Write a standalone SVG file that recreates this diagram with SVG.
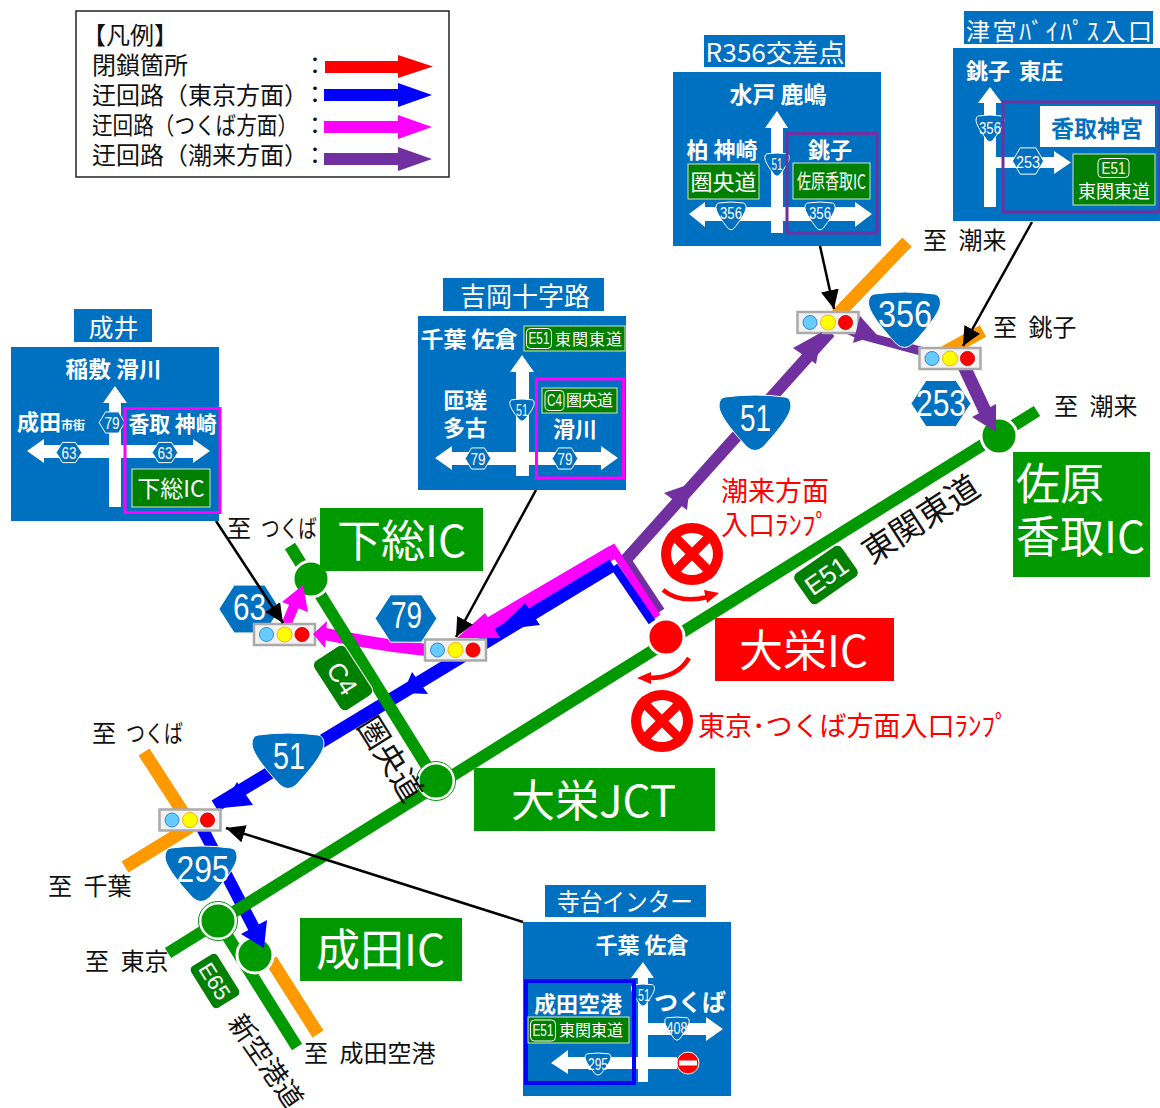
<svg xmlns="http://www.w3.org/2000/svg" width="1160" height="1108" viewBox="0 0 1160 1108">
<style>
text{font-family:"Noto Sans CJK JP","Noto Sans",sans-serif}
.k{fill:#111;font-size:24px}
.to{fill:#111;font-size:24px;word-spacing:6px}
.rd{fill:#f00;font-size:27px}
.sb{fill:#0070c0}
.t{fill:#fff;font-size:25px;text-anchor:middle}
.b{fill:#fff;font-size:22px;font-weight:700;text-anchor:middle}
.g{fill:#008000;stroke:#cfe5cf;stroke-width:1}
.gt{fill:#fff;font-size:16px}
.rr{fill:none;stroke:#fff;stroke-width:1}
.w{fill:#fff}
.n{font-family:"Liberation Sans",Arial,sans-serif;fill:#fff;font-size:16px;text-anchor:middle}
.N{font-family:"Liberation Sans",Arial,sans-serif;fill:#fff;font-size:36px;text-anchor:middle}
.lab{fill:#fff;font-size:44px}
.road{fill:none;stroke:#009900;stroke-width:12}
.or{fill:none;stroke:#ff9900;stroke-width:13}
.sig{fill:#f2f2f2;stroke:#aaa;stroke-width:2.5}
.l1{fill:#66ccff;stroke:#3a86c8;stroke-width:1}
.l2{fill:#ffff00;stroke:#f5b400;stroke-width:1}
.l3{fill:#ff0000;stroke:#e00000;stroke-width:1}
.ic{fill:#009900;stroke:#fff;stroke-width:3}
.ring{fill:none;stroke:#009900;stroke-width:1}
.pt{fill:none;stroke:#000;stroke-width:2.500;marker-end:url(#ah)}
.badge{fill:#008000;stroke:#fff;stroke-width:1}
.bt{fill:#fff;font-size:26px;text-anchor:middle;font-family:"Liberation Sans",Arial,sans-serif}
.rn{fill:#111;font-size:31px;text-anchor:middle}
.rt{fill:none}
</style>
<defs>
<marker id="ah" markerUnits="userSpaceOnUse" markerWidth="20" markerHeight="18" refX="19" refY="9" orient="auto"><path d="M0,0L19,9L0,18Z" fill="#000"/></marker>
<path id="sh" d="M-30,2Q0,-2 30,2Q36,3 36,11Q36,22 8,52Q0,59 -8,52Q-36,22 -36,11Q-36,3 -30,2Z" fill="#0070c0" stroke="#fff" stroke-width="1" vector-effect="non-scaling-stroke"/>
<path id="hx" d="M-30,0L-15,-23H15L30,0L15,23H-15Z" fill="#0070c0" stroke="#fff" stroke-width="1" vector-effect="non-scaling-stroke"/>
<g id="xs"><circle r="31" fill="#f00"/><circle r="21" fill="#fff"/><path d="M-22,-22L22,22M22,-22L-22,22" stroke="#f00" stroke-width="9"/></g>
<g id="lamp"><rect class="sig" x="-30.500" y="-10.500" width="61" height="21"/><circle class="l1" cx="-18" r="7"/><circle class="l2" r="7.500"/><circle class="l3" cx="17.500" r="7"/></g>
</defs>

<g id="legend">
<rect x="76" y="11" width="373" height="166" fill="#fff" stroke="#222" stroke-width="1.500"/>
<text class="k" x="82" y="44">【凡例】</text>
<text class="k" x="92" y="74">閉鎖箇所</text>
<text class="k" x="92" y="104">迂回路（東京方面）</text>
<text class="k" x="92" y="134" textLength="206" lengthAdjust="spacingAndGlyphs">迂回路（つくば方面）</text>
<text class="k" x="92" y="164">迂回路（潮来方面）</text>
<text class="k" x="303" y="74">：</text><text class="k" x="303" y="103">：</text><text class="k" x="303" y="134">：</text><text class="k" x="303" y="164">：</text>
<path d="M325,61H398V55L433,66.500L398,78V73H325Z" fill="#f00"/>
<path d="M324,89H398V83L432,95L398,107V101H324Z" fill="#00f"/>
<path d="M324,121H398V115L432,127L398,139V133H324Z" fill="#f0f"/>
<path d="M324,153H398V147L432,159L398,171V165H324Z" fill="#7030a0"/>
</g>

<g id="routes">
<path class="rt" d="M661,611L626,558" stroke="#7030a0" stroke-width="8"/>
<path class="rt" d="M622,564L830,332" stroke="#7030a0" stroke-width="12"/>
<path class="rt" d="M657,617L613,549L470,633" stroke="#f0f" stroke-width="8"/>
<path class="rt" d="M613,552L478,631" stroke="#f0f" stroke-width="14"/>
<path class="rt" d="M652,622L614,566" stroke="#00f" stroke-width="8"/>
<path class="rt" d="M613,565L215,806" stroke="#00f" stroke-width="13"/>
<path class="rt" d="M200,824L256,932" stroke="#00f" stroke-width="12"/>
<path class="rt" d="M428,650Q385,646 325,634" stroke="#f0f" stroke-width="12"/>
<path class="rt" d="M284,630L294,606" stroke="#f0f" stroke-width="10"/>
<path class="rt" d="M840,326L858,334L950,359" stroke="#7030a0" stroke-width="9"/>
<path class="rt" d="M962,362L985,411" stroke="#7030a0" stroke-width="13"/>
</g>

<g id="roads">
<path class="road" d="M1037,411L168,953"/>
<path class="road" d="M290,546L436,781"/>
<path class="road" d="M218,921L297,1047"/>
<path class="or" d="M144,752L186,817"/>
<path class="or" d="M125,867L190,827"/>
<path class="or" d="M271,960L318,1034"/>
<path class="or" d="M907,242L836,316"/>
<path class="or" d="M983,331L945,352"/>
</g>

<g id="ic-daiei"><circle cx="666" cy="637" r="18" fill="#f00" stroke="#fff" stroke-width="3"/><rect x="715" y="618" width="179" height="63" fill="#f00"/><text class="lab" x="739" y="667">大栄IC</text></g>
<g id="jct-daiei"><circle class="ic" cx="436" cy="781" r="18" stroke-width="2"/><circle class="ring" cx="436" cy="781" r="19.500"/><rect x="474" y="768" width="241" height="63" fill="#009900"/><text class="lab" x="511" y="817">大栄JCT</text></g>
<g id="jct-narita"><circle class="ic" cx="218" cy="921" r="18" stroke-width="2"/><circle class="ring" cx="218" cy="921" r="19.500"/></g>
<g id="ic-narita"><circle class="ic" cx="255" cy="955" r="18"/><rect x="300" y="918" width="162" height="63" fill="#009900"/><text class="lab" x="316" y="966">成田IC</text></g>
<g id="ic-shimofusa"><circle class="ic" cx="311" cy="579" r="18"/><rect x="320" y="508" width="163" height="63" fill="#009900"/><text class="lab" x="337" y="557">下総IC</text></g>
<g id="ic-sawara"><circle class="ic" cx="999" cy="436" r="18"/><rect x="1013" y="452" width="137" height="125" fill="#009900"/><text class="lab" x="1016" y="500" textLength="88">佐原</text><text class="lab" x="1016" y="553">香取IC</text></g>

<g id="route-shields">
<use href="#hx" transform="translate(249.500,609) scale(1.02,1.04)"/><text class="N" x="249.500" y="620" textLength="33" lengthAdjust="spacingAndGlyphs">63</text>
<use href="#hx" transform="translate(406,618.500) scale(1.03,1.03)"/><text class="N" x="406.500" y="628" textLength="31" lengthAdjust="spacingAndGlyphs">79</text>
<use href="#hx" transform="translate(941,403.500)"/><text class="N" x="941" y="416" textLength="50" lengthAdjust="spacingAndGlyphs">253</text>
<use href="#sh" transform="translate(755,395)"/><text class="N" x="755.500" y="431" textLength="31" lengthAdjust="spacingAndGlyphs">51</text>
<use href="#sh" transform="translate(288,733)"/><text class="N" x="289" y="769" textLength="32" lengthAdjust="spacingAndGlyphs">51</text>
<use href="#sh" transform="translate(201,846)"/><text class="N" x="203" y="882" textLength="53" lengthAdjust="spacingAndGlyphs">295</text>
<use href="#sh" transform="translate(904.500,292)"/><text class="N" x="905" y="327" textLength="54" lengthAdjust="spacingAndGlyphs">356</text>
</g>

<g id="signal-r356"><use href="#lamp" transform="translate(828,322.500)"/></g>
<g id="signal-choshi"><use href="#lamp" transform="translate(950,358.500)"/></g>
<g id="signal-narui"><use href="#lamp" transform="translate(284.500,634.500)"/></g>
<g id="signal-yoshioka"><use href="#lamp" transform="translate(455.500,650)"/></g>
<g id="signal-teradai"><use href="#lamp" transform="translate(190,820)"/></g>

<g id="connectors">
<polygon points="497,630 525,603 540,625" fill="#00f"/>
<polygon points="403,693 412,672 428,694" fill="#00f"/>
<polygon points="222,808 237,782 253,805" fill="#00f"/>
<polygon points="264,948 267,920 241,934" fill="#00f"/>
<polygon points="457,638 485,613 500,638" fill="#f0f"/>
<polygon points="313,634 327,621 325,648" fill="#f0f"/>
<polygon points="303,585 282,602 308,612" fill="#f0f"/>
<polygon points="690,484 664,493 687,510" fill="#7030a0"/>
<polygon points="822,332 793,348 816,364" fill="#7030a0"/>
<polygon points="860,316 853,343 877,335" fill="#7030a0"/>
<polygon points="996,432 996,404 972,417" fill="#7030a0"/>
<path d="M663,590Q680,604 708,597" fill="none" stroke="#f00" stroke-width="4.500"/>
<polygon points="719,593 704,590 707,603" fill="#f00"/>
<path d="M689,658Q677,678 650,678" fill="none" stroke="#f00" stroke-width="4.500"/>
<polygon points="637,678 651,672 651,684" fill="#f00"/>
<path class="pt" d="M820,246L834,309"/>
<path class="pt" d="M1032,222L963,346"/>
<path class="pt" d="M536,490L456,637"/>
<path class="pt" d="M216,521L283,623"/>
<path class="pt" d="M523,922L226,828"/>
</g>

<g id="road-badges">
<g transform="translate(343,678) rotate(57)"><rect class="badge" x="-29.500" y="-19" width="59" height="38" rx="6"/><text class="bt" y="10">C4</text></g>
<g transform="translate(826,575) rotate(-35)"><rect class="badge" x="-29" y="-19" width="58" height="38" rx="6"/><text class="bt" y="10">E51</text></g>
<g transform="translate(215,981) rotate(58)"><rect class="badge" x="-25" y="-16" width="50" height="32" rx="5"/><text class="bt" y="8" style="font-size:22px">E65</text></g>
</g>

<g id="road-names">
<text class="rn" transform="translate(927,529) rotate(-33)" style="font-size:33px">東関東道</text>
<text class="rn" transform="translate(381,765) rotate(58)">圏央道</text>
<text class="rn" transform="translate(258,1067) rotate(55)" style="font-size:27px">新空港道</text>
</g>

<g id="direction-labels">
<text class="to" x="923" y="249">至 潮来</text>
<text class="to" x="993" y="336">至 銚子</text>
<text class="to" x="1054" y="415">至 潮来</text>
<text class="to" x="227" y="537">至 <tspan x="261" textLength="56" lengthAdjust="spacingAndGlyphs">つくば</tspan></text>
<text class="to" x="92" y="742">至 <tspan x="126" textLength="57" lengthAdjust="spacingAndGlyphs">つくば</tspan></text>
<text class="to" x="48" y="895">至 千葉</text>
<text class="to" x="85" y="970">至 東京</text>
<text class="to" x="304" y="1062">至 成田空港</text>
</g>

<g id="ramp-closed-itako">
<use href="#xs" transform="translate(692,554)"/>
<text class="rd" x="721" y="501">潮来方面</text>
<text class="rd" x="721" y="535">入口ﾗﾝﾌﾟ</text>
</g>
<g id="ramp-closed-tokyo">
<use href="#xs" transform="translate(662,721)"/>
<text class="rd" x="698" y="736">東京･つくば方面入口ﾗﾝﾌﾟ</text>
</g>

<g id="sign-r356">
<rect class="sb" x="704" y="35" width="141" height="32"/><text class="t" x="775" y="62" textLength="139" lengthAdjust="spacingAndGlyphs">R356交差点</text>
<rect class="sb" x="673" y="72" width="208" height="174"/>
<text class="b" x="778" y="103" style="font-size:23px">水戸 鹿嶋</text>
<path class="w" d="M771,233V128H765L777,111L788,128H783V233Z"/>
<path class="w" d="M689,214L705,202V207H855V202L872,214L855,227V221H705V227Z"/>
<text class="b" x="722" y="158">柏 神崎</text>
<rect class="g" x="688" y="164" width="71" height="35"/><text class="gt" x="723.500" y="190" text-anchor="middle" style="font-size:22px">圏央道</text>
<use href="#sh" transform="translate(777,153) scale(.34,.42)"/><text class="n" x="777" y="170" textLength="11" lengthAdjust="spacingAndGlyphs">51</text>
<use href="#sh" transform="translate(731,202) scale(.42,.5)"/><text class="n" x="731" y="219" textLength="22" lengthAdjust="spacingAndGlyphs">356</text>
<use href="#sh" transform="translate(820,202) scale(.42,.5)"/><text class="n" x="820" y="219" textLength="22" lengthAdjust="spacingAndGlyphs">356</text>
<rect x="787" y="133.500" width="90" height="99.500" fill="none" stroke="#7030a0" stroke-width="3"/>
<text class="b" x="830" y="158">銚子</text>
<rect class="g" x="793" y="163" width="77" height="36"/><text class="gt" x="797" y="189" textLength="69" lengthAdjust="spacingAndGlyphs" style="font-size:20px">佐原香取IC</text>
</g>

<g id="sign-tsumiya">
<rect class="sb" x="964" y="11" width="189" height="33"/><text class="t" x="966" y="40" textLength="186" style="text-anchor:start;font-size:24px">津宮ﾊﾞｲﾊﾟｽ入口</text>
<rect class="sb" x="953" y="48" width="207" height="173"/>
<text class="b" x="966" y="79" style="text-anchor:start;word-spacing:4px">銚子 東庄</text>
<path class="w" d="M984,207V103H978L990,87L1002,103H996V207Z"/>
<path class="w" d="M996,157H1054V151L1071,162.500L1054,174V168H996Z"/>
<use href="#sh" transform="translate(990,115) scale(.39,.48)"/><text class="n" x="990" y="134" textLength="22" lengthAdjust="spacingAndGlyphs">356</text>
<rect class="w" x="1040" y="106" width="115" height="41"/><text x="1097" y="137" text-anchor="middle" style="font-size:23px;font-weight:700;fill:#0070c0">香取神宮</text>
<use href="#hx" transform="translate(1028,161) scale(.52,.57)"/><text class="n" x="1028" y="168" textLength="24" lengthAdjust="spacingAndGlyphs">253</text>
<rect class="g" x="1073" y="154" width="82" height="51"/>
<rect class="rr" x="1098" y="158.500" width="31" height="19" rx="4"/><text class="n" x="1113.500" y="174" textLength="24" lengthAdjust="spacingAndGlyphs">E51</text>
<text class="gt" x="1114" y="198" text-anchor="middle" style="font-size:18px">東関東道</text>
<rect x="1003" y="102" width="157" height="110" fill="none" stroke="#7030a0" stroke-width="3"/>
</g>

<g id="sign-yoshioka">
<rect class="sb" x="443" y="278" width="161" height="33"/><text class="t" x="525" y="306" style="font-size:26px">吉岡十字路</text>
<rect class="sb" x="418" y="316" width="208" height="174"/>
<text class="b" x="469" y="347" textLength="97" lengthAdjust="spacingAndGlyphs">千葉 佐倉</text>
<rect class="g" x="524" y="326" width="101" height="25"/>
<rect class="rr" x="526.500" y="328.500" width="25" height="20" rx="4"/><text class="n" x="539" y="344" textLength="21" lengthAdjust="spacingAndGlyphs">E51</text>
<text class="gt" x="555" y="345" textLength="67">東関東道</text>
<path class="w" d="M516,476V372H510L522,355L534,372H529V476Z"/>
<path class="w" d="M435,458L452,446V452H601V446L618,458L601,470V465H452V470Z"/>
<use href="#sh" transform="translate(522,399) scale(.34,.4)"/><text class="n" x="522" y="416" textLength="12" lengthAdjust="spacingAndGlyphs">51</text>
<use href="#hx" transform="translate(478,458.500) scale(.43,.46)"/><text class="n" x="478" y="465" textLength="15" lengthAdjust="spacingAndGlyphs">79</text>
<use href="#hx" transform="translate(565,458.500) scale(.43,.46)"/><text class="n" x="565" y="465" textLength="15" lengthAdjust="spacingAndGlyphs">79</text>
<text class="b" x="465" y="408">匝瑳</text><text class="b" x="465" y="436">多古</text>
<rect x="536.500" y="379" width="87" height="99" fill="none" stroke="#f0f" stroke-width="3"/>
<rect class="g" x="542" y="388" width="75" height="25"/>
<rect class="rr" x="545" y="390.500" width="19" height="20" rx="4"/><text class="n" x="554.500" y="406" textLength="15" lengthAdjust="spacingAndGlyphs">C4</text>
<text class="gt" x="566" y="406" textLength="47">圏央道</text>
<text class="b" x="575" y="437">滑川</text>
</g>

<g id="sign-narui">
<rect class="sb" x="74" y="309" width="78" height="33"/><text class="t" x="113.500" y="337">成井</text>
<rect class="sb" x="11" y="347" width="208" height="174"/>
<text class="b" x="113.500" y="377" textLength="96" lengthAdjust="spacingAndGlyphs" style="font-size:22px">稲敷 滑川</text>
<path class="w" d="M109,507V403H103L115,386L127,403H121V507Z"/>
<path class="w" d="M27,451L44,439V445H193V439L210,451L193,463V458H44V463Z"/>
<text class="b" x="17" y="430" style="text-anchor:start">成田<tspan style="font-size:12px">市街</tspan></text>
<use href="#hx" transform="translate(112,422.500) scale(.43,.46)"/><text class="n" x="112" y="429" textLength="15" lengthAdjust="spacingAndGlyphs">79</text>
<use href="#hx" transform="translate(69,452.500) scale(.43,.44)"/><text class="n" x="69" y="459" textLength="15" lengthAdjust="spacingAndGlyphs">63</text>
<use href="#hx" transform="translate(165,452.500) scale(.43,.44)"/><text class="n" x="165" y="459" textLength="15" lengthAdjust="spacingAndGlyphs">63</text>
<rect x="125" y="408.500" width="95" height="104" fill="none" stroke="#f0f" stroke-width="3"/>
<text class="b" x="172.500" y="432" textLength="88" lengthAdjust="spacingAndGlyphs">香取 神崎</text>
<rect class="g" x="132" y="469" width="78" height="38"/><text class="gt" x="171" y="497" text-anchor="middle" style="font-size:23px">下総IC</text>
</g>

<g id="sign-teradai">
<rect class="sb" x="545" y="885" width="161" height="32"/><text class="t" x="625" y="911" textLength="136" lengthAdjust="spacingAndGlyphs">寺台インター</text>
<rect class="sb" x="523" y="922" width="208" height="174"/>
<text class="b" x="642" y="953">千葉 佐倉</text>
<path class="w" d="M638,1082V978H631L643,962L654,978H648V1082Z"/>
<path class="w" d="M648,1023H706V1017L723,1029L706,1041V1035H648Z"/>
<path class="w" d="M551,1063L568,1050V1057H677V1069H568V1074Z"/>
<use href="#sh" transform="translate(643,984) scale(.32,.4)"/><text class="n" x="644" y="1001" textLength="12" lengthAdjust="spacingAndGlyphs">51</text>
<text class="b" x="690" y="1011" style="font-size:24px">つくば</text>
<use href="#sh" transform="translate(677,1017) scale(.34,.42)"/><text class="n" x="677" y="1034" textLength="21" lengthAdjust="spacingAndGlyphs">408</text>
<circle cx="688" cy="1063" r="11" fill="#f00" stroke="#fff" stroke-width="1"/><rect class="w" x="679" y="1060.500" width="18" height="5"/>
<rect x="526" y="981" width="108" height="102" fill="none" stroke="#00f" stroke-width="4"/>
<text class="b" x="578" y="1012">成田空港</text>
<rect class="g" x="528" y="1017" width="101" height="26"/>
<rect class="rr" x="530.500" y="1020" width="25" height="21" rx="4"/><text class="n" x="543" y="1036" textLength="21" lengthAdjust="spacingAndGlyphs">E51</text>
<text class="gt" x="559" y="1036" textLength="64">東関東道</text>
<use href="#sh" transform="translate(598,1053) scale(.36,.4)"/><text class="n" x="598" y="1070" textLength="20" lengthAdjust="spacingAndGlyphs">295</text>
</g>
</svg>
